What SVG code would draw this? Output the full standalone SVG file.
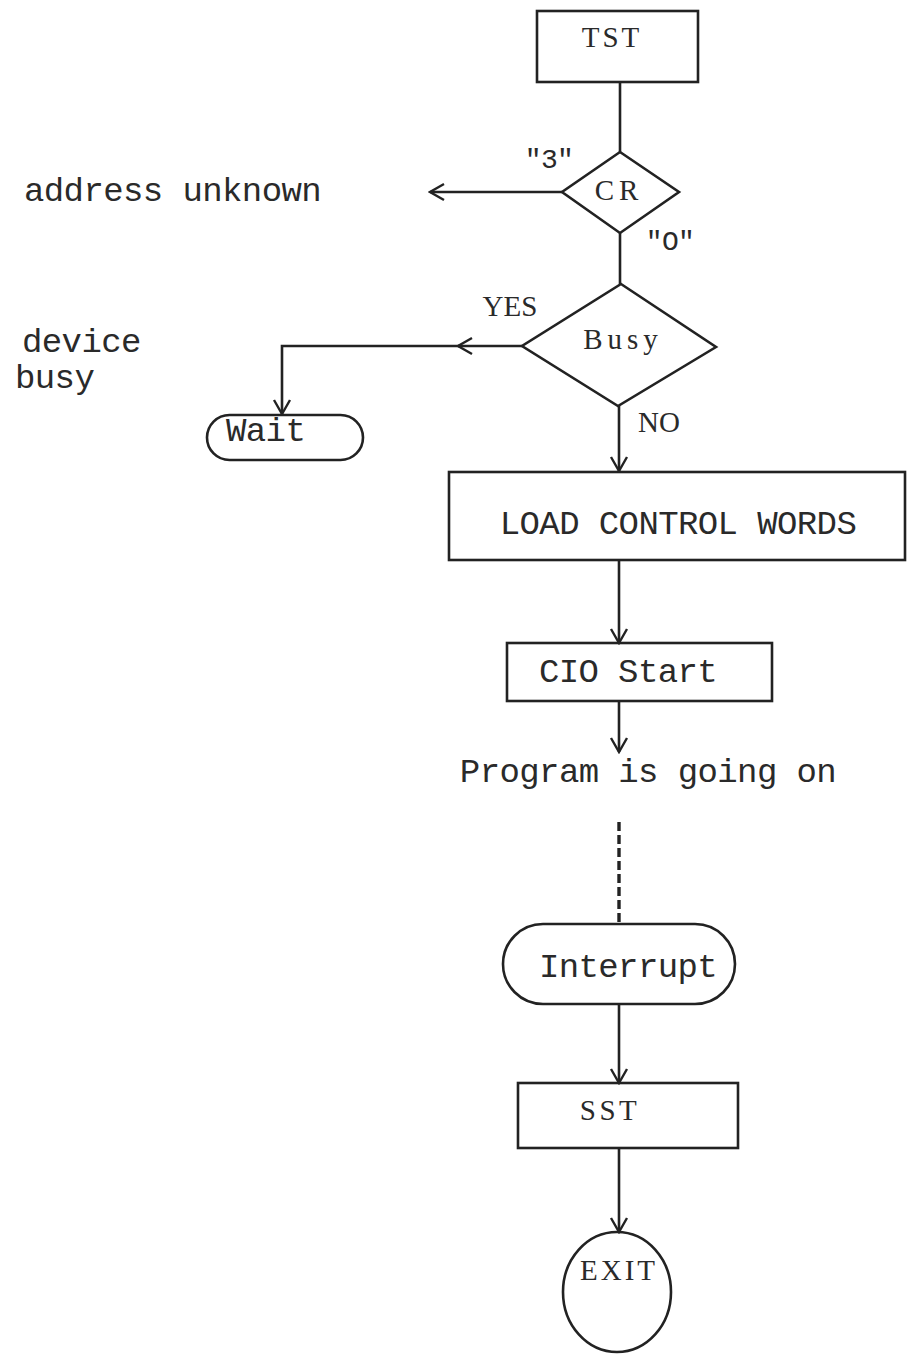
<svg xmlns="http://www.w3.org/2000/svg" width="909" height="1362" viewBox="0 0 909 1362">
<defs>
<marker id="arr" viewBox="0 0 20 20" refX="18" refY="10" markerWidth="20" markerHeight="20" markerUnits="userSpaceOnUse" orient="auto">
<path d="M4,2 L18,10 L4,18" fill="none" stroke="#222" stroke-width="2.4"/>
</marker>
<style>
.s{fill:none;stroke:#222;stroke-width:2.6}
.c{stroke:#222;stroke-width:2.6;fill:none}
.m{font-family:"Liberation Mono","Courier New",monospace;font-size:34px;letter-spacing:-0.6px;fill:#2a2a2a}
.r{font-family:"Liberation Serif","Times New Roman",serif;font-size:29px;fill:#2a2a2a}
</style>
</defs>
<rect width="909" height="1362" fill="#fff"/>
<g id="connectors">
<line class="c" x1="620" y1="82" x2="620" y2="152"/>
<line class="c" x1="562" y1="192" x2="430" y2="192" marker-end="url(#arr)"/>
<line class="c" x1="620" y1="233" x2="620" y2="284"/>
<line class="c" x1="522" y1="346" x2="458" y2="346" marker-end="url(#arr)"/>
<polyline class="c" points="460,346 282,346 282,414" marker-end="url(#arr)"/>
<line class="c" x1="619" y1="406" x2="619" y2="471" marker-end="url(#arr)"/>
<line class="c" x1="619" y1="560" x2="619" y2="643" marker-end="url(#arr)"/>
<line class="c" x1="619" y1="701" x2="619" y2="752" marker-end="url(#arr)"/>
<line x1="619" y1="822" x2="619" y2="924" stroke="#222" stroke-width="3.4" stroke-dasharray="9,4"/>
<line class="c" x1="619" y1="1004" x2="619" y2="1083" marker-end="url(#arr)"/>
<line class="c" x1="619" y1="1148" x2="619" y2="1232" marker-end="url(#arr)"/>
</g>
<g id="tst">
<rect class="s" x="537" y="11" width="161" height="71"/>
<text class="r" x="612" y="47" text-anchor="middle" letter-spacing="3">TST</text>
</g>
<g id="cr">
<polygon class="s" points="620,152 679,192 620,233 562,192"/>
<text class="r" x="619" y="200" text-anchor="middle" letter-spacing="5">CR</text>
<text class="m" x="549" y="168" text-anchor="middle" style="font-size:28px">"3"</text>
<text class="m" x="670" y="250" text-anchor="middle" style="font-size:28px">"O"</text>
</g>
<g id="address-unknown">
<text class="m" x="24" y="201">address unknown</text>
</g>
<g id="busy">
<polygon class="s" points="621,284 716,347 618,406 522,346"/>
<text class="r" x="623" y="349" text-anchor="middle" letter-spacing="5">Busy</text>
<text class="r" x="510" y="316" text-anchor="middle">YES</text>
<text class="r" x="659" y="432" text-anchor="middle">NO</text>
</g>
<g id="device-busy">
<text class="m" x="22" y="352">device</text>
<text class="m" x="15" y="388">busy</text>
</g>
<g id="wait">
<rect class="s" x="207" y="415" width="156" height="45" rx="22.5" ry="22.5"/>
<text class="m" x="226" y="441">Wait</text>
</g>
<g id="load">
<rect class="s" x="449" y="472" width="456" height="88"/>
<text class="m" x="678" y="534" text-anchor="middle">LOAD CONTROL WORDS</text>
</g>
<g id="cio">
<rect class="s" x="507" y="643" width="265" height="58"/>
<text class="m" x="628" y="682" text-anchor="middle">CIO Start</text>
</g>
<g id="program">
<text class="m" x="648" y="782" text-anchor="middle">Program is going on</text>
</g>
<g id="interrupt">
<rect class="s" x="503" y="924" width="232" height="80" rx="40" ry="40"/>
<text class="m" x="628" y="977" text-anchor="middle">Interrupt</text>
</g>
<g id="sst">
<rect class="s" x="518" y="1083" width="220" height="65"/>
<text class="r" x="610" y="1120" text-anchor="middle" letter-spacing="3.5">SST</text>
</g>
<g id="exit">
<ellipse class="s" cx="617" cy="1292" rx="54" ry="60"/>
<text class="r" x="619" y="1280" text-anchor="middle" letter-spacing="3">EXIT</text>
</g>
</svg>
